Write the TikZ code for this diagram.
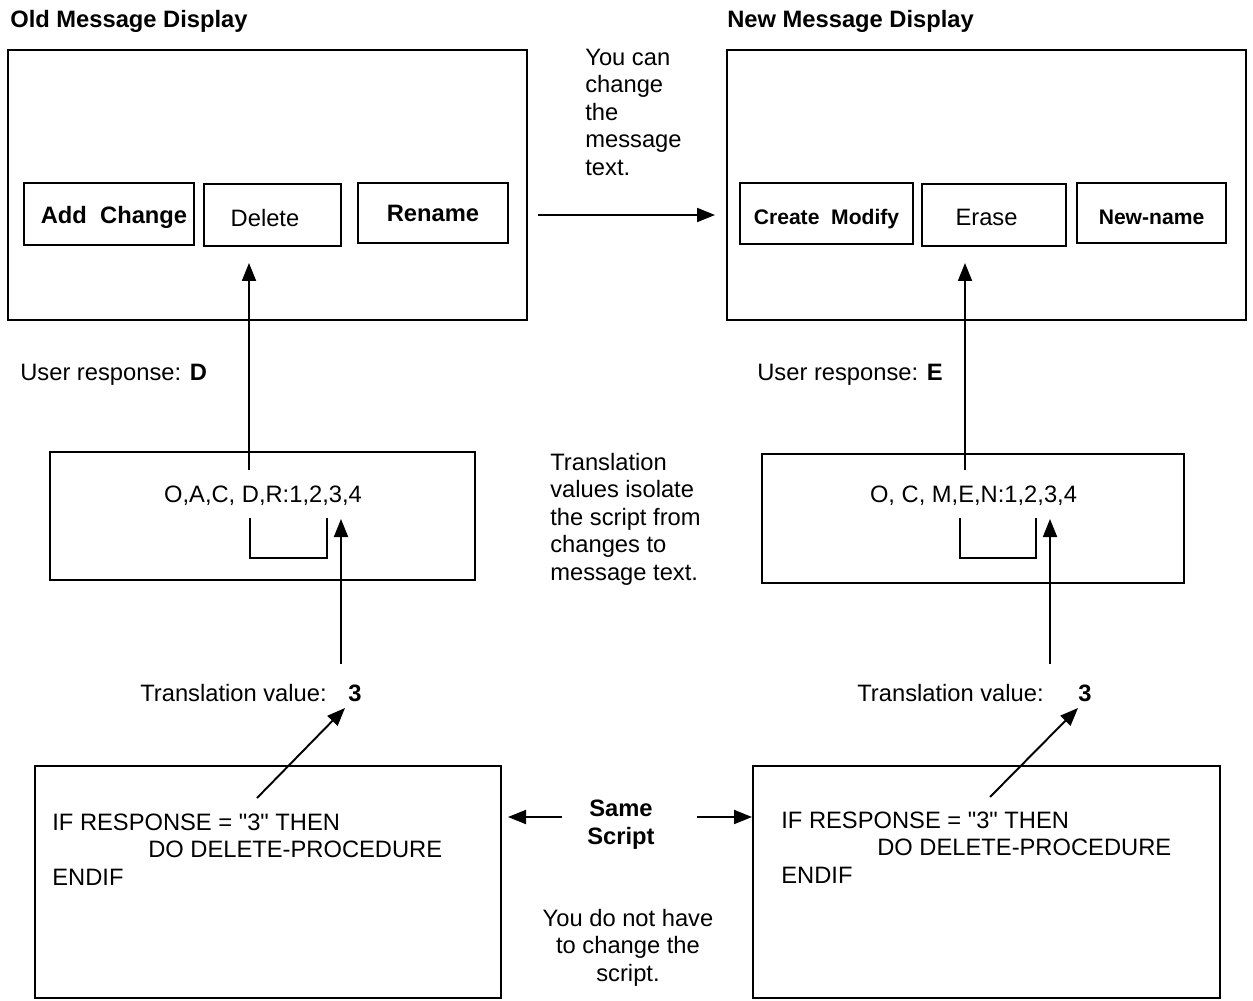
\documentclass[tikz,border=0pt]{standalone}
\usepackage{fontspec}
\setmainfont{Liberation Sans}[Ligatures=TeXOff]
\usetikzlibrary{arrows.meta,positioning}
\tikzset{
  SC/.style={rectangle,draw,line width=1.6pt,inner sep=0pt,
             minimum width=10.38cm,minimum height=5.4cm},
  BT/.style={rectangle,draw,line width=1.6pt,inner sep=0pt,
             minimum height=1.22cm,font=\fontsize{13.5}{16}\selectfont\bfseries},
  BN/.style={BT,font=\fontsize{13.5}{16}\selectfont},
  BS/.style={BT,font=\fontsize{12}{14}\selectfont\bfseries},
  MB/.style={rectangle,draw,line width=1.6pt,inner sep=0pt},
  arr/.style={-{Triangle[length=0.36cm,width=0.28cm]},line width=1.1pt},
  brk/.style={line width=0.6pt},
  tx/.style={inner sep=0pt,align=left,font=\fontsize{13.5}{15.6}\selectfont},
  hd/.style={tx,font=\fontsize{13.5}{15.6}\selectfont\bfseries}
}
\newcommand{\lowr}[2]{\raisebox{-#1}[\height][\depth]{#2}}
\begin{document}
\begin{tikzpicture}[x=0.02cm,y=-0.02cm]
  \useasboundingbox (0,0) rectangle (1253,1000);
  \node[hd,anchor=base west] (oldt) at (10,28) {Old Message Display};
  \node[hd,anchor=base west] (newt) at (727,28) {New Message Display};

  \node[SC] (old) at (267.5,185) {};
  \node[BT,minimum width=3.4cm,minimum height=1.24cm] (add) at (109,214) {\hspace*{0.2cm}\lowr{2pt}{Add\ \ Change}};
  \node[BN,minimum width=2.74cm,minimum height=1.24cm] (del) at (272.5,215) {\hspace*{-0.3cm}\lowr{1.5pt}{Delete}};
  \node[BT,minimum width=3.0cm,minimum height=1.2cm] (ren) at (433,213) {Rename};
  \node[SC] (new) at (986.5,185) {};
  \node[BS,minimum width=3.46cm] (crm) at (826.5,213.5) {\lowr{3.3pt}{Create\ \ Modify}};
  \node[BN,minimum width=2.88cm,minimum height=1.24cm] (era) at (994,215) {\hspace*{-0.3cm}\lowr{1.5pt}{Erase}};
  \node[BS,minimum width=2.98cm,minimum height=1.2cm] (nwn) at (1151.5,213) {\lowr{2.3pt}{New-name}};

  \node[tx,anchor=base west] (chg) at (585,175) {You can\\change\\the\\message\\text.};
  \node[tx,anchor=base west] (urL) at (20,380) {User response: \textbf{D}};
  \node[tx,anchor=base west] (urR) at (757,380) {User response: \textbf{E}};

  \node[MB,minimum width=8.5cm,minimum height=2.56cm] (trL) at (262.5,516) {};
  \node[MB,minimum width=8.44cm,minimum height=2.58cm] (trR) at (973,518.5) {};
  \node[tx,anchor=base] (valL) at (263,502) {O,A,C, D,R:1,2,3,4};
  \node[tx,anchor=base] (valR) at (973.5,502) {O, C, M,E,N:1,2,3,4};
  \node[tx,anchor=base west] (iso) at (550,580) {Translation\\values isolate\\the script from\\changes to\\message text.};

  \node[tx,anchor=base west] (tvL) at (140,701) {Translation value:};
  \node[hd,anchor=base west] (tvL3) at (348,701) {3};
  \node[tx,anchor=base west] (tvR) at (857,701) {Translation value:};
  \node[hd,anchor=base west] (tvR3) at (1078,701) {3};

  \node[MB,minimum width=9.32cm,minimum height=4.64cm] (scL) at (268,882) {};
  \node[MB,minimum width=9.34cm,minimum height=4.64cm] (scR) at (986.5,882) {};
  \node[tx,anchor=base west] (cdL) at (52,885) {IF RESPONSE = "3" THEN\\\hspace*{1.92cm}DO DELETE-PROCEDURE\\ENDIF};
  \node[tx,anchor=base west] (cdR) at (781,883) {IF RESPONSE = "3" THEN\\\hspace*{1.92cm}DO DELETE-PROCEDURE\\ENDIF};
  \node[hd,anchor=base,align=center] (same) at (621,844) {Same\\Script};
  \node[tx,anchor=base,align=center] (nochg) at (628,981) {You do not have\\to change the\\script.};

  \coordinate (aL0) at (249,470);  \coordinate (aL1) at (249,263);
  \coordinate (aR0) at (965,470);  \coordinate (aR1) at (965,263);
  \coordinate (hA) at (538,215);   \coordinate (hB) at (715,215);
  \coordinate (tL0) at (341,664);  \coordinate (tL1) at (341,519);
  \coordinate (tR0) at (1050,664); \coordinate (tR1) at (1050,519);
  \coordinate (dL0) at (257,798);  \coordinate (dL1) at (345,708);
  \coordinate (dR0) at (990,797);  \coordinate (dR1) at (1078,708);
  \coordinate (sL0) at (562,817);  \coordinate (sL1) at (508,817);
  \coordinate (sR0) at (697,817);  \coordinate (sR1) at (752,817);

  \draw[arr](aL0)--(aL1);
  \draw[arr](aR0)--(aR1);
  \draw[arr](hA)--(hB);
  \draw[arr](tL0)--(tL1);
  \draw[arr](tR0)--(tR1);
  \draw[arr](dL0)--(dL1);
  \draw[arr](dR0)--(dR1);
  \draw[arr](sL0)--(sL1);
  \draw[arr](sR0)--(sR1);
  \draw[brk](250,518)--(250,558)--(327,558)--(327,518);
  \draw[brk](960,518)--(960,558)--(1036,558)--(1036,518);
\end{tikzpicture}
\end{document}
